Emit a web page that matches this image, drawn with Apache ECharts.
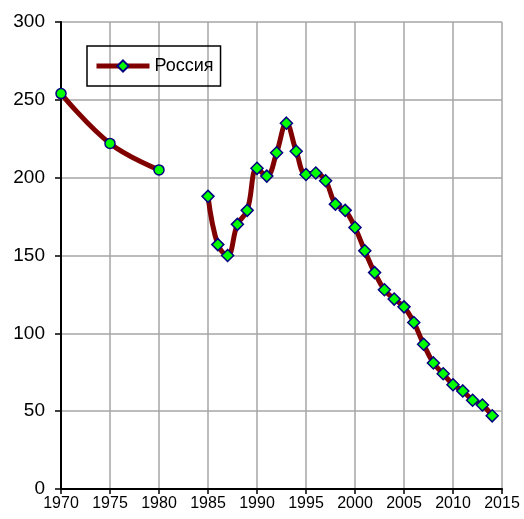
<!DOCTYPE html>
<html>
<head>
<meta charset="utf-8">
<script src="https://cdn.jsdelivr.net/npm/echarts@6/dist/echarts.min.js"></script>
<style>
  html, body { margin: 0; padding: 0; background: #fff; }
  #chart { width: 524px; height: 519px; }
</style>
</head>
<body>
<div id="chart"></div>
<script>
// данные читаются с графика; null = разрыв линии
const seriesName = 'Россия';
const years = [1970, 1975, 1980, 1982, 1985, 1986, 1987, 1988, 1989, 1990, 1991, 1992, 1993, 1994,
  1995, 1996, 1997, 1998, 1999, 2000, 2001, 2002, 2003, 2004, 2005, 2006, 2007, 2008, 2009,
  2010, 2011, 2012, 2013, 2014];
const values = [254, 222, 205, null, 188, 157, 150, 170, 179, 206, 201, 216, 235, 217,
  202, 203, 198, 183, 179, 168, 153, 139, 128, 122, 117, 107, 93, 81, 74,
  67, 63, 57, 54, 47];
const xTicks = { min: 1970, max: 2015, step: 5 };
const yTicks = { min: 0, max: 300, step: 50 };

(function () {
  const chart = echarts.init(document.getElementById('chart'));
  const font = 'Liberation Sans, Arial, sans-serif';

  // ранние точки (до 1985) в оригинале — кружки
  const data = years.map((y, i) => {
    const v = values[i] === null ? '-' : values[i];
    const item = { value: [y, v] };
    if (y < 1985) { item.symbol = 'circle'; item.symbolSize = 10; }
    return item;
  });

  const opt = {
    animation: false,
    grid: { left: 61, right: 22, top: 22, bottom: 30, containLabel: false },
    legend: {
      left: 87, top: 46,
      padding: [11, 7, 11, 7],
      borderColor: '#000', borderWidth: 1.5,
      itemWidth: 53, itemHeight: 14, itemGap: 0,
      lineStyle: { width: 5, color: '#800000' },
      textStyle: { fontFamily: font, fontSize: 18, color: '#000' },
      data: [seriesName]
    },
    xAxis: {
      type: 'value', min: xTicks.min, max: xTicks.max, interval: xTicks.step,
      axisLine: { lineStyle: { color: '#000', width: 2 } },
      axisTick: { show: true, length: 5, lineStyle: { color: '#000', width: 1.5 } },
      axisLabel: { fontFamily: font, fontSize: 16, color: '#000', margin: 7, formatter: v => String(v) },
      splitLine: { show: true, lineStyle: { color: '#a6a6a6', width: 1.5 } }
    },
    yAxis: {
      type: 'value', min: yTicks.min, max: yTicks.max, interval: yTicks.step,
      axisLine: { show: true, lineStyle: { color: '#000', width: 2 } },
      axisTick: { show: true, length: 6, lineStyle: { color: '#000', width: 1.5 } },
      axisLabel: { fontFamily: font, fontSize: 19, color: '#000', margin: 16 },
      splitLine: { show: true, lineStyle: { color: '#a6a6a6', width: 1.5 } }
    },
    series: [{
      name: seriesName,
      type: 'line',
      data: data,
      smooth: 0.4,
      connectNulls: false,
      symbol: 'diamond',
      symbolSize: 12,
      showAllSymbol: true,
      lineStyle: { color: '#800000', width: 5 },
      itemStyle: { color: '#00ff00', borderColor: '#000080', borderWidth: 1.5 }
    }]
  };
  chart.setOption(opt);
})();
</script>
</body>
</html>
